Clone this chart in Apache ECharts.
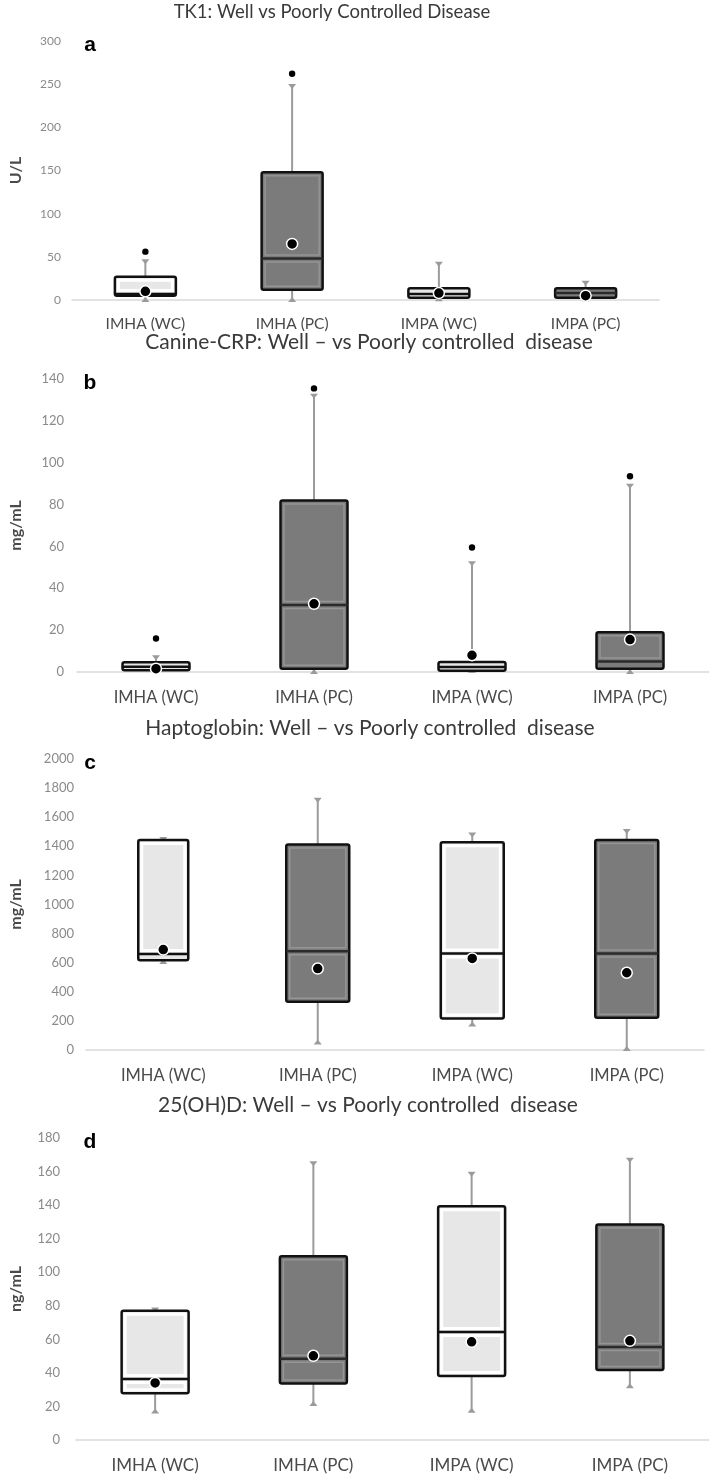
<!DOCTYPE html>
<html>
<head>
<meta charset="utf-8">
<script src="https://cdn.jsdelivr.net/npm/echarts@6/dist/echarts.min.js"></script>
<style>
  html, body { margin: 0; padding: 0; background: #ffffff; }
  #chart { width: 709px; height: 1479px; }
</style>
</head>
<body>
<div id="chart"></div>
<script>
// ---------- data ----------
const categories = ['IMHA (WC)', 'IMHA (PC)', 'IMPA (WC)', 'IMPA (PC)'];

// Panel a: TK1 (U/L)
const tk1Min     = [0, 0, 1, 1];
const tk1Q1      = [5, 12, 2.5, 2.5];
const tk1Median  = [7, 48, 7, 8];
const tk1Q3      = [27, 148, 13.5, 13.5];
const tk1Max     = [45, 248, 42, 20];
const tk1Mean    = [10, 65, 8, 5];
const tk1Outlier = [56, 262, null, null];
const tk1Ticks   = [0, 300, 50];

// Panel b: Canine-CRP (mg/mL)
const crpMin     = [0.5, 0, 0.5, 0];
const crpQ1      = [0.8, 1.6, 0.6, 1.6];
const crpMedian  = [2.5, 32, 2.4, 5];
const crpQ3      = [4.6, 82, 4.8, 19];
const crpMax     = [7, 132, 52, 89];
const crpMean    = [1.6, 32.6, 8, 15.5];
const crpOutlier = [16, 135.5, 59.5, 93.5];
const crpTicks   = [0, 140, 20];

// Panel c: Haptoglobin (mg/mL)
const hpMin     = [605, 52, 176, 7];
const hpQ1      = [617, 331, 217, 222];
const hpMedian  = [660, 679, 663, 663];
const hpQ3      = [1444, 1413, 1428, 1444];
const hpMax     = [1450, 1720, 1481, 1506];
const hpMean    = [690, 560, 629, 531];
const hpOutlier = [null, null, null, null];
const hpTicks   = [0, 2000, 200];

// Panel d: 25(OH)D (ng/mL)
const vdMin     = [17, 21.4, 17.5, 32];
const vdQ1      = [27.8, 33.7, 38.1, 41.7];
const vdMedian  = [36.3, 48.4, 64.3, 55.4];
const vdQ3      = [77, 109.5, 139.3, 128.4];
const vdMax     = [77.8, 165, 158.7, 167];
const vdMean    = [34, 50.2, 58.5, 59.1];
const vdOutlier = [null, null, null, null];
const vdTicks   = [0, 180, 20];

const titles = [
  'TK1: Well vs Poorly Controlled Disease',
  'Canine-CRP: Well \u2013 vs Poorly controlled  disease',
  'Haptoglobin: Well \u2013 vs Poorly controlled  disease',
  '25(OH)D: Well \u2013 vs Poorly controlled  disease'
];
const units = ['U/L', 'mg/mL', 'mg/mL', 'ng/mL'];
const letters = ['a', 'b', 'c', 'd'];

// ---------- layout / style ----------
const panels = [
  { d: [tk1Min, tk1Q1, tk1Median, tk1Q3, tk1Max, tk1Mean, tk1Outlier], t: tk1Ticks,
    left: 68, top: 41, width: 591, height: 259, boxW: [61, 61, 61, 61],
    titleX: 332, titleY: 12, titleSize: 18.5, labelMargin: 11, nameGap: 48, xFont: 15.5, xMargin: 16, tickFont: 12 },
  { d: [crpMin, crpQ1, crpMedian, crpQ3, crpMax, crpMean, crpOutlier], t: crpTicks,
    left: 68, top: 379, width: 653, height: 293, boxW: [67, 67, 67, 67],
    titleX: 369, titleY: 342, titleSize: 21, labelMargin: 13, nameGap: 53, xFont: 16.5, xMargin: 17, tickFont: 13 },
  { d: [hpMin, hpQ1, hpMedian, hpQ3, hpMax, hpMean, hpOutlier], t: hpTicks,
    left: 79, top: 759, width: 625, height: 291, boxW: [50, 63, 63, 63],
    titleX: 370, titleY: 728, titleSize: 21, labelMargin: 12, nameGap: 62, xFont: 16.5, xMargin: 17, tickFont: 13 },
  { d: [vdMin, vdQ1, vdMedian, vdQ3, vdMax, vdMean, vdOutlier], t: vdTicks,
    left: 66, top: 1138, width: 659, height: 302, boxW: [67, 67, 67, 67],
    titleX: 368, titleY: 1105, titleSize: 21, labelMargin: 16, nameGap: 52, xFont: 17, xMargin: 17, tickFont: 13 }
];

const FONT = 'Lato, "Open Sans", sans-serif';
const WHISK = '#9b9b9b';

function makeRender(panel) {
  return function (params, api) {
    const ci = api.value(0);
    const mn = api.value(1), q1 = api.value(2), md = api.value(3), q3 = api.value(4),
          mx = api.value(5), mean = api.value(6), outl = api.value(7);
    const cx = api.coord([ci, 0])[0];
    const Y = v => api.coord([ci, v])[1];
    const bw = panel.boxW[ci];
    const pc = (ci % 2) === 1;
    const fill = pc ? '#7b7b7b' : '#e7e7e7';
    const band = pc ? '#959595' : '#ffffff';
    const bandW = pc ? 1.5 : 3;
    const x0 = cx - bw / 2;
    const yq3 = Y(q3), yq1 = Y(q1), ymd = Y(md), ymx = Y(mx), ymn = Y(mn);
    const ch = [];
    ch.push({ type: 'line', shape: { x1: cx, y1: yq3, x2: cx, y2: ymx }, style: { stroke: WHISK, lineWidth: 2 } });
    ch.push({ type: 'line', shape: { x1: cx, y1: yq1, x2: cx, y2: ymn }, style: { stroke: WHISK, lineWidth: 2 } });
    ch.push({ type: 'polygon', shape: { points: [[cx - 4, ymx - 2], [cx + 4, ymx - 2], [cx, ymx + 3]] }, style: { fill: WHISK } });
    ch.push({ type: 'polygon', shape: { points: [[cx - 4, ymn + 2], [cx + 4, ymn + 2], [cx, ymn - 3]] }, style: { fill: WHISK } });
    ch.push({ type: 'rect', shape: { x: x0, y: yq3, width: bw, height: yq1 - yq3, r: 2 },
              style: { fill: fill, stroke: 'none' } });
    [[yq3, ymd], [ymd, yq1]].forEach(function (s) {
      const h = s[1] - s[0];
      if (h > 9) {
        ch.push({ type: 'rect', shape: { x: x0 + 3.5, y: s[0] + 3.5, width: bw - 7, height: h - 7 },
                  style: { fill: 'none', stroke: band, lineWidth: bandW } });
      }
    });
    ch.push({ type: 'rect', shape: { x: x0, y: yq3, width: bw, height: yq1 - yq3, r: 2 },
              style: { fill: 'none', stroke: '#111111', lineWidth: 2.5 } });
    ch.push({ type: 'line', shape: { x1: x0, y1: ymd, x2: x0 + bw, y2: ymd },
              style: { stroke: pc ? '#2a2a2a' : '#111111', lineWidth: 2.5 } });
    if (!isNaN(mean)) {
      ch.push({ type: 'circle', shape: { cx: cx, cy: Y(mean), r: 5.5 },
                style: { fill: '#000000', stroke: '#ffffff', lineWidth: 1.5 } });
    }
    if (!isNaN(outl)) {
      ch.push({ type: 'circle', shape: { cx: cx, cy: Y(outl), r: 3.2 }, style: { fill: '#000000' } });
    }
    return { type: 'group', children: ch };
  };
}

const grid = [], xAxis = [], yAxis = [], series = [], graphic = [];
panels.forEach(function (p, i) {
  grid.push({ left: p.left, top: p.top, width: p.width, height: p.height });
  xAxis.push({
    type: 'category', gridIndex: i, data: categories, boundaryGap: true,
    axisLine: { show: true, lineStyle: { color: '#d9d9d9', width: 1.5 } },
    axisTick: { show: false },
    axisLabel: { color: '#4a4a4a', fontSize: p.xFont, fontFamily: FONT, margin: p.xMargin, interval: 0 },
    splitLine: { show: false }
  });
  yAxis.push({
    type: 'value', gridIndex: i, min: p.t[0], max: p.t[1], interval: p.t[2],
    name: units[i], nameLocation: 'middle', nameGap: p.nameGap, nameRotate: 90,
    nameTextStyle: { color: '#4a4a4a', fontSize: 16, fontWeight: 'bold', fontFamily: FONT },
    axisLine: { show: false }, axisTick: { show: false },
    axisLabel: { color: '#8a8a8a', fontSize: p.tickFont, fontFamily: FONT, margin: p.labelMargin,
                 formatter: function (v) { return String(v); } },
    splitLine: { show: false }
  });
  const rows = categories.map(function (c, k) {
    return [k].concat(p.d.map(function (arr) { return arr[k] == null ? NaN : arr[k]; }));
  });
  series.push({
    type: 'custom', xAxisIndex: i, yAxisIndex: i, data: rows,
    renderItem: makeRender(p), clip: false, silent: true
  });
  graphic.push({
    type: 'text', x: p.titleX, y: p.titleY,
    style: { text: titles[i], fill: '#3a3a3a', font: p.titleSize + 'px ' + FONT, textAlign: 'center', textVerticalAlign: 'middle' }
  });
  graphic.push({
    type: 'text', x: 90, y: p.top + 4,
    style: { text: letters[i], fill: '#000000', font: 'bold 21px "Liberation Sans", Arial, sans-serif', textAlign: 'center', textVerticalAlign: 'middle' }
  });
});

const chart = echarts.init(document.getElementById('chart'), null, { renderer: 'canvas' });
chart.setOption({
  backgroundColor: '#ffffff',
  animation: false,
  grid: grid, xAxis: xAxis, yAxis: yAxis, series: series, graphic: graphic
});
</script>
</body>
</html>
